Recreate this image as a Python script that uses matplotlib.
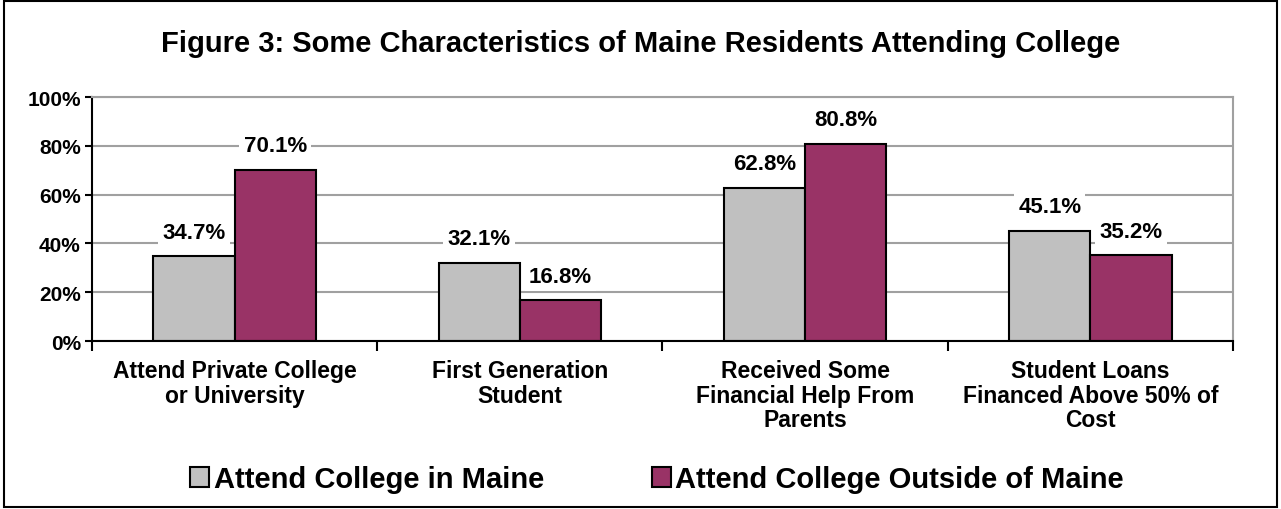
import numpy as np
import matplotlib.pyplot as plt
from matplotlib.patches import Rectangle

plt.rcParams['font.family'] = ['Liberation Sans', 'DejaVu Sans']
plt.rcParams['font.weight'] = 'bold'

categories = ["Attend Private College\nor University",
              "First Generation\nStudent",
              "Received Some\nFinancial Help From\nParents",
              "Student Loans\nFinanced Above 50% of\nCost"]
in_maine = [34.7, 32.1, 62.8, 45.1]
outside_maine = [70.1, 16.8, 80.8, 35.2]
series_names = ["Attend College in Maine", "Attend College Outside of Maine"]

fig = plt.figure(figsize=(12.81, 5.10), dpi=100)
ax = fig.add_axes([0.0718, 0.3294, 0.8907, 0.4784])

x = np.arange(len(categories))
w = 0.285
b1 = ax.bar(x - w / 2, in_maine, w, color='#C0C0C0', edgecolor='black', linewidth=1.5,
            label=series_names[0], zorder=3)
b2 = ax.bar(x + w / 2, outside_maine, w, color='#993366', edgecolor='black', linewidth=1.5,
            label=series_names[1], zorder=3)

for bars, vals in [(b1, in_maine), (b2, outside_maine)]:
    for r, v in zip(bars, vals):
        ax.annotate(f"{v:.1f}%", (r.get_x() + r.get_width() / 2, v),
                    xytext=(0, 24), textcoords='offset pixels', ha='center', va='center',
                    fontsize=16, fontweight='bold', zorder=4,
                    bbox=dict(facecolor='white', edgecolor='none', pad=3))

ax.set_xlim(-0.5, 3.5)
ax.set_ylim(0, 100)
ax.set_yticks(np.arange(0, 101, 20))
ax.set_yticklabels([f"{t}%" for t in range(0, 101, 20)], fontsize=15, fontweight='bold')
ax.set_xticks(x)
ax.set_xticklabels(categories, fontsize=16.5, fontweight='bold', linespacing=1.08)
ax.tick_params(axis='x', which='major', length=0, pad=13)
ax.set_xticks(np.arange(-0.5, 3.6, 1), minor=True)
ax.tick_params(axis='x', which='minor', length=7, width=1.5, direction='out')
ax.tick_params(axis='y', length=5, width=1.5, direction='out', pad=3)

ax.grid(axis='y', color='#A0A0A0', linewidth=1.5, zorder=0)
ax.spines['left'].set_linewidth(1.5)
ax.spines['bottom'].set_linewidth(1.5)
ax.spines['bottom'].set_zorder(5)
for s in ['top', 'right']:
    ax.spines[s].set_color('#A0A0A0')
    ax.spines[s].set_linewidth(1.5)

fig.text(0.5, 0.914, "Figure 3: Some Characteristics of Maine Residents Attending College",
         ha='center', va='center', fontsize=21, fontweight='bold')

leg = fig.legend(handles=[b1, b2], labels=series_names, loc='center', bbox_to_anchor=(0.513, 0.058),
                 ncol=2, frameon=False, prop={'weight': 'bold', 'size': 21},
                 handlelength=0.65, handleheight=0.65, handletextpad=0.15, columnspacing=3.7)

fig.patches.append(Rectangle((0.003, 0.004), 0.994, 0.992, transform=fig.transFigure,
                             fill=False, edgecolor='black', linewidth=1.5))

fig.savefig('out.png', dpi=100)
